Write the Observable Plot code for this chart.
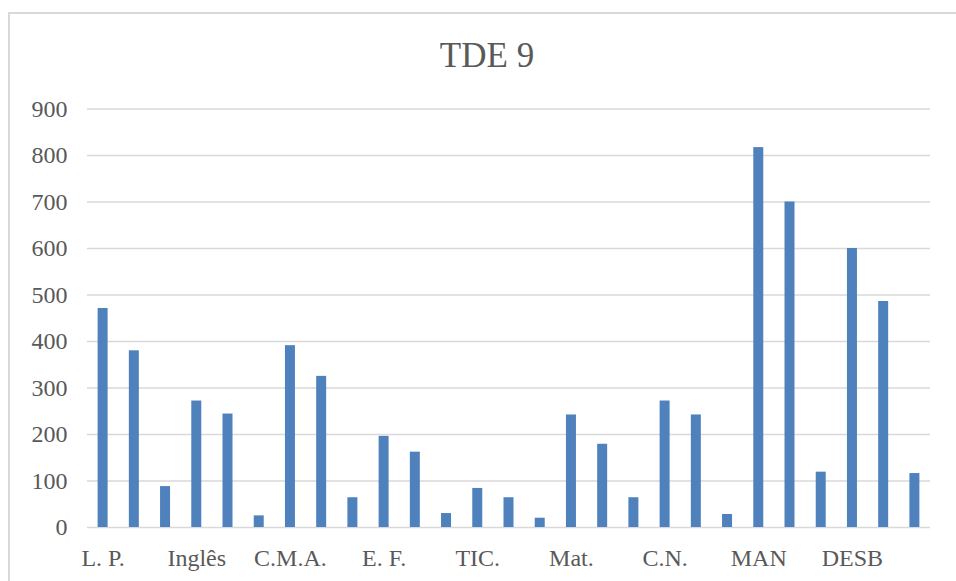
<!DOCTYPE html>
<html>
<head>
<meta charset="utf-8">
<script src="https://cdn.jsdelivr.net/npm/d3@7"></script>
<script src="https://cdn.jsdelivr.net/npm/@observablehq/plot@0.6"></script>
<style>
  html, body { margin: 0; padding: 0; background: #fff; overflow: hidden; width: 956px; height: 581px; }
  #wrap { position: relative; width: 956px; height: 581px; }
  #frame { position: absolute; left: 8px; top: 12px; width: 1100px; height: 1100px; border: 2px solid #d9d9d9; box-sizing: border-box; }
  #title { position: absolute; left: 8px; width: 958px; top: 38px; text-align: center; font-family: "Liberation Serif", serif; font-size: 35px; line-height: 1; color: #595959; }
  #chart { position: absolute; left: 0; top: 80px; }
</style>
</head>
<body>
<div id="wrap">
  <div id="frame"></div>
  <div id="title">TDE 9</div>
  <div id="chart"></div>
</div>
<script>
const groups = ["L. P.", "Inglês", "C.M.A.", "E. F.", "TIC.", "Mat.", "C.N.", "MAN", "DESB"];
const values = [
  471, 380, 88,
  272, 244, 25,
  391, 325, 64,
  196, 162, 30,
  84, 64, 20,
  242, 179, 64,
  272, 242, 28,
  817, 700, 119,
  600, 486, 116
];
const yTicks = [0, 100, 200, 300, 400, 500, 600, 700, 800, 900];

const data = values.map((v, i) => ({i, v}));

const plot = Plot.plot({
  width: 956,
  height: 501,
  marginLeft: 87,
  marginRight: 26,
  marginTop: 28.5,
  marginBottom: 54,
  style: { fontFamily: "Liberation Serif, serif", fontSize: "24px", color: "#595959", background: "transparent", overflow: "visible" },
  x: { type: "band", domain: d3.range(values.length), paddingInner: 0.68, paddingOuter: 0.34, round: false, label: null },
  y: { domain: [0, 900], label: null },
  marks: [
    Plot.ruleY(yTicks, { stroke: "#d9d9d9", strokeWidth: 1.5 }),
    Plot.barY(data, { x: "i", y: "v", fill: "#4f81bd" }),
    Plot.axisY({ ticks: yTicks, tickSize: 0, tickPadding: 20, fill: "#595959", fontSize: 24, label: null }),
    Plot.axisX({ tickSize: 0, tickPadding: 21, fill: "#595959", fontSize: 24, label: null,
      tickFormat: i => (i % 3 === 0 ? groups[i / 3] : "") })
  ]
});
document.getElementById("chart").appendChild(plot);
</script>
</body>
</html>
